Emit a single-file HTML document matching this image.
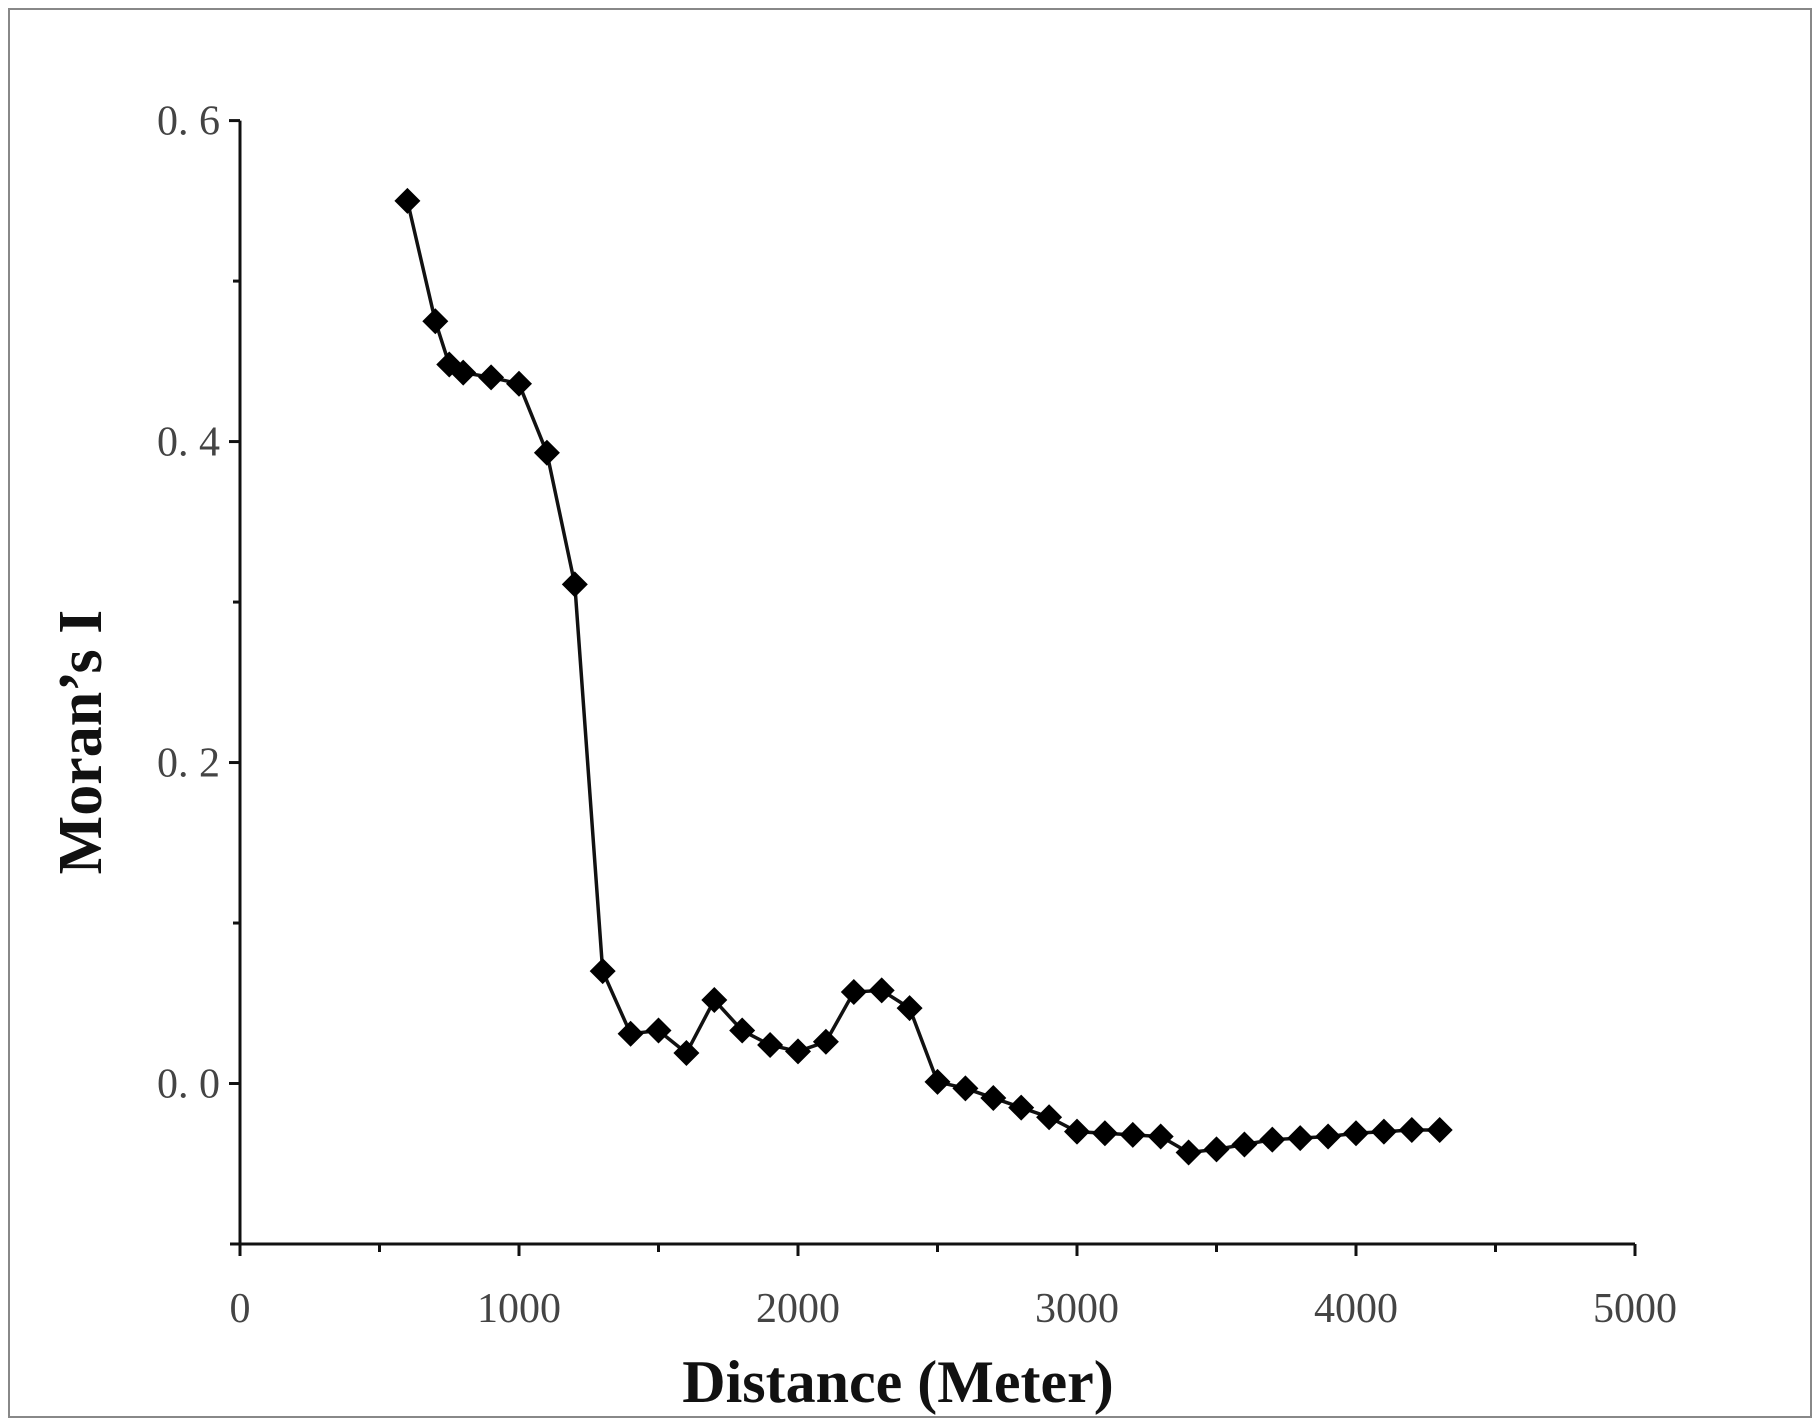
<!DOCTYPE html>
<html><head><meta charset="utf-8"><style>
html,body{margin:0;padding:0;background:#fff;}
svg{display:block;}
</style></head><body>
<svg id="chart" width="1818" height="1427" viewBox="0 0 1818 1427">
<rect x="9" y="9" width="1802" height="1408" fill="#fff" stroke="#888" stroke-width="2"/>
<g id="axes"></g>
<g id="series"></g>
<text x="898" y="1402" text-anchor="middle" font-family="Liberation Serif, serif" font-weight="bold" font-size="60" fill="#111">Distance (Meter)</text>
<text transform="translate(101,742) rotate(-90)" text-anchor="middle" font-family="Liberation Serif, serif" font-weight="bold" font-size="62" fill="#111">Moran’s I</text>
</svg>
<script>
const xValues=[600,700,750,800,900,1000,1100,1200,1300,1400,1500,1600,1700,1800,1900,2000,2100,2200,2300,2400,2500,2600,2700,2800,2900,3000,3100,3200,3300,3400,3500,3600,3700,3800,3900,4000,4100,4200,4300];
const yValues=[0.550,0.475,0.448,0.443,0.440,0.436,0.393,0.311,0.070,0.031,0.033,0.019,0.052,0.033,0.024,0.020,0.026,0.057,0.058,0.047,0.001,-0.003,-0.009,-0.015,-0.021,-0.030,-0.031,-0.032,-0.033,-0.043,-0.041,-0.038,-0.035,-0.034,-0.033,-0.031,-0.030,-0.029,-0.029];
const xTicks=[0,1000,2000,3000,4000,5000];
const xMinor=[500,1500,2500,3500,4500];
const yTicks=[0.6,0.4,0.2,0.0];
const yTickLabels=["0. 6","0. 4","0. 2","0. 0"];
const yMinor=[0.5,0.3,0.1,-0.1];
const X0=240,X1=1635,Y0=1244,Y1=120.6;
const xMin=0,xMax=5000,yMin=-0.1,yMax=0.6;
const sx=v=>X0+(v-xMin)/(xMax-xMin)*(X1-X0);
const sy=v=>Y0-(v-yMin)/(yMax-yMin)*(Y0-Y1);
const NS="http://www.w3.org/2000/svg";
const axes=document.getElementById('axes'),series=document.getElementById('series');
function mk(tag,attrs,parent){const e=document.createElementNS(NS,tag);for(const k in attrs)e.setAttribute(k,attrs[k]);parent.appendChild(e);return e;}
let e;
e=mk('line',{x1:X0,y1:Y1,x2:X0,y2:Y0,stroke:'#111','stroke-width':3},axes);


e=mk('line',{x1:X0-10,y1:Y0,x2:X1,y2:Y0,stroke:'#111','stroke-width':3},axes);


xTicks.forEach(v=>{
 e=mk('line',{x1:sx(v),y1:Y0,x2:sx(v),y2:Y0+12,stroke:'#111','stroke-width':3},axes);
 
 
 e=mk('text',{x:sx(v),y:1322,'text-anchor':'middle','font-family':'Liberation Serif, serif','font-size':42,fill:'#444'},axes);
 e.textContent=String(v);
 
 
});
xMinor.forEach(v=>{
 e=mk('line',{x1:sx(v),y1:Y0,x2:sx(v),y2:Y0+8,stroke:'#111','stroke-width':3},axes);
 
 
});
yTicks.forEach((v,i)=>{
 e=mk('line',{x1:X0-11,y1:sy(v),x2:X0,y2:sy(v),stroke:'#111','stroke-width':3},axes);
 
 
 e=mk('text',{x:220,y:sy(v)+14,'text-anchor':'end','font-family':'Liberation Serif, serif','font-size':42,fill:'#444'},axes);
 e.textContent=yTickLabels[i];
 
 
});
yMinor.forEach(v=>{
 e=mk('line',{x1:X0-7,y1:sy(v),x2:X0,y2:sy(v),stroke:'#111','stroke-width':3},axes);
 
 
});
const pts=xValues.map((x,i)=>sx(x)+','+sy(yValues[i])).join(' ');
e=mk('polyline',{points:pts,fill:'none',stroke:'#111','stroke-width':3.5},series);


xValues.forEach((x,i)=>{
 const cx=sx(x),cy=sy(yValues[i]),r=13;
 e=mk('polygon',{points:`${cx},${cy-r} ${cx+r},${cy} ${cx},${cy+r} ${cx-r},${cy}`,fill:'#000'},series);
 
 
});
</script>
</body></html>
